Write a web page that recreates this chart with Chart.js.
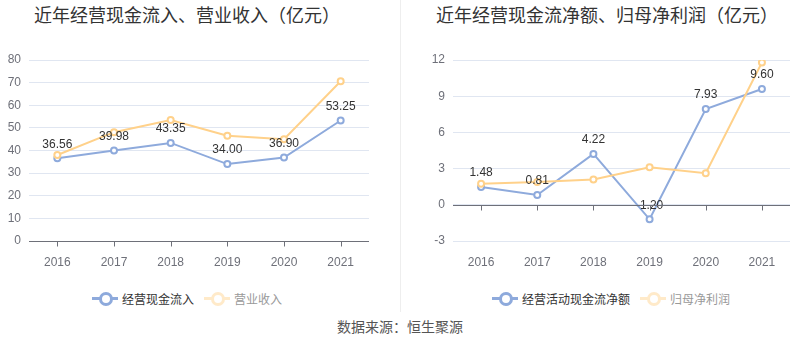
<!DOCTYPE html>
<html><head><meta charset="utf-8">
<script src="https://cdn.jsdelivr.net/npm/chart.js@4/dist/chart.umd.min.js"></script>
<style>
html,body{margin:0;padding:0;background:#fff;}
body{width:800px;height:358px;position:relative;overflow:hidden;font-family:"Liberation Sans","Noto Sans CJK SC",sans-serif;}
.title{position:absolute;top:3px;font-size:18px;color:#333;font-family:"Noto Sans CJK SC",sans-serif;white-space:nowrap;transform:translateX(-50%);line-height:22px;}
canvas{position:absolute;top:0;}
.legend{position:absolute;top:290px;height:16px;display:flex;align-items:center;font-size:12px;font-family:"Noto Sans CJK SC",sans-serif;white-space:nowrap;}
.item{display:flex;align-items:center;margin-right:10px;}
.icon{position:relative;width:26px;height:14px;margin-right:4px;}
.icon .ln{position:absolute;left:0;top:6px;width:26px;height:3px;}
.icon .dot{position:absolute;left:7px;top:1px;width:8px;height:8px;border-radius:50%;background:#fff;border:3px solid;}
.divider{position:absolute;left:400px;top:0;width:1px;height:312px;background:#eee;}
.source{position:absolute;top:316px;left:400px;transform:translateX(-50%);font-size:14px;color:#555;font-family:"Noto Sans CJK SC",sans-serif;white-space:nowrap;}
</style></head>
<body>
<div class="divider"></div>
<div class="title" style="left:187px">近年经营现金流入、营业收入（亿元）</div>
<div class="title" style="left:607px">近年经营现金流净额、归母净利润（亿元）</div>
<canvas id="c1" width="400" height="271" style="left:0"></canvas>
<canvas id="c2" width="400" height="271" style="left:400px"></canvas>
<div class="legend" style="left:92px">
  <div class="item"><div class="icon"><div class="ln" style="background:#8eaadc"></div><div class="dot" style="border-color:#8eaadc"></div></div><span style="color:#333">经营现金流入</span></div>
  <div class="item"><div class="icon" style="opacity:.45"><div class="ln" style="background:#ffd18a"></div><div class="dot" style="border-color:#ffd18a"></div></div><span style="color:#999">营业收入</span></div>
</div>
<div class="legend" style="left:492px">
  <div class="item"><div class="icon"><div class="ln" style="background:#8eaadc"></div><div class="dot" style="border-color:#8eaadc"></div></div><span style="color:#333">经营活动现金流净额</span></div>
  <div class="item"><div class="icon" style="opacity:.45"><div class="ln" style="background:#ffd18a"></div><div class="dot" style="border-color:#ffd18a"></div></div><span style="color:#999">归母净利润</span></div>
</div>
<div class="source">数据来源：恒生聚源</div>
<script>
const years = ['2016','2017','2018','2019','2020','2021'];
const cashInflow = [36.56, 39.98, 43.35, 34.00, 36.90, 53.25];
const revenue = [38.0, 48.1, 53.5, 46.5, 45.0, 70.6];
const netCashFlow = [1.48, 0.81, 4.22, -1.20, 7.93, 9.60];
const netProfit = [1.74, 1.88, 2.10, 3.12, 2.62, 11.79];
const leftTicks = {min: 0, max: 80, step: 10};
const rightTicks = {min: -3, max: 12, step: 3};

const BLUE = '#8eaadc', ORANGE = '#ffd18a', AXIS = '#6E7079', GRID = '#E0E6F1';
Chart.defaults.font.family = '"Liberation Sans","Noto Sans CJK SC",sans-serif';

const axisPlugin = {
  id: 'axisLine',
  afterDraw(chart) {
    const ctx = chart.ctx, x = chart.scales.x, y = chart.scales.y;
    const yz = y.getPixelForValue(0);
    ctx.save();
    ctx.strokeStyle = AXIS; ctx.lineWidth = 1;
    ctx.beginPath();
    ctx.moveTo(chart.chartArea.left, Math.round(yz) + 0.5);
    ctx.lineTo(chart.chartArea.right, Math.round(yz) + 0.5);
    x.ticks.forEach((t, i) => {
      const px = Math.round(x.getPixelForTick(i)) + 0.5;
      ctx.moveTo(px, Math.round(yz) + 0.5);
      ctx.lineTo(px, Math.round(yz) + 5.5);
    });
    ctx.stroke();
    ctx.restore();
  }
};
const labelPlugin = {
  id: 'valueLabels',
  afterDatasetsDraw(chart) {
    const ctx = chart.ctx;
    const meta = chart.getDatasetMeta(0);
    const data = chart.data.datasets[0].data;
    ctx.save();
    ctx.font = '12px "Liberation Sans", sans-serif';
    ctx.fillStyle = '#333';
    ctx.textAlign = 'center';
    ctx.textBaseline = 'middle';
    meta.data.forEach((p, i) => {
      ctx.fillText(data[i].toFixed(2), p.x, p.y - 14);
    });
    ctx.restore();
  }
};

function makeChart(id, d1, d2, lab1, lab2, tk, yWidth, padRight) {
  return new Chart(document.getElementById(id), {
    type: 'line',
    data: {
      labels: years,
      datasets: [
        {label: lab1, data: d1, borderColor: BLUE, backgroundColor: '#fff', pointBackgroundColor: '#fff', pointBorderColor: BLUE, borderWidth: 2, pointRadius: 3, pointBorderWidth: 2, tension: 0, order: 1},
        {label: lab2, data: d2, borderColor: ORANGE, backgroundColor: '#fff', pointBackgroundColor: '#fff', pointBorderColor: ORANGE, borderWidth: 2, pointRadius: 3, pointBorderWidth: 2, tension: 0, order: 0}
      ]
    },
    options: {
      responsive: false, animation: false, devicePixelRatio: 1,
      layout: {padding: {top: 60, right: padRight, left: 0, bottom: 0}},
      plugins: {legend: {display: false}, tooltip: {enabled: false}},
      scales: {
        x: {
          offset: true,
          grid: {display: false},
          border: {display: false},
          ticks: {color: AXIS, font: {size: 12}, padding: 6, maxRotation: 0},
          afterFit(s) { s.height = 30; }
        },
        y: {
          min: tk.min, max: tk.max,
          grid: {color: GRID, drawTicks: false},
          border: {display: false},
          ticks: {stepSize: tk.step, color: AXIS, font: {size: 12}, padding: 8},
          afterFit(s) { s.width = yWidth; }
        }
      }
    },
    plugins: [axisPlugin, labelPlugin]
  });
}
makeChart('c1', cashInflow, revenue, '经营现金流入', '营业收入', leftTicks, 29, 31);
makeChart('c2', netCashFlow, netProfit, '经营活动现金流净额', '归母净利润', rightTicks, 53, 10);
</script>
</body></html>
